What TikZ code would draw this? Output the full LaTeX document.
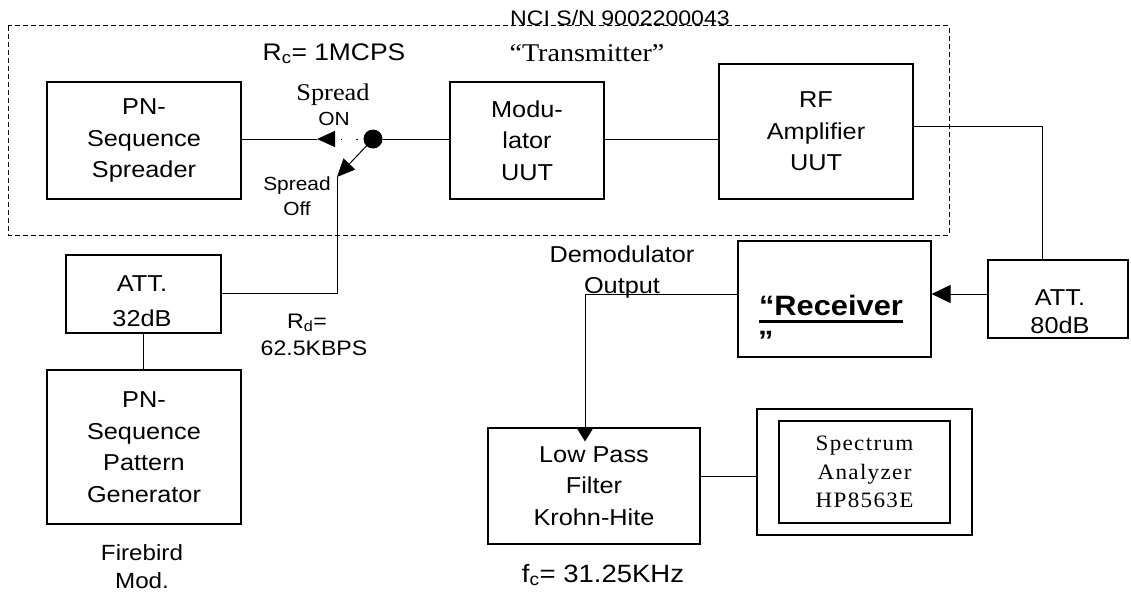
\documentclass[tikz,border=0pt]{standalone}
\usepackage{fontspec}
\setmainfont{Liberation Sans}[FakeStretch=1.1]
\newfontfamily\serifx{Liberation Serif}[FakeStretch=1.1]
\newfontfamily\serifsp{Liberation Serif}[FakeStretch=1.05,LetterSpace=6]
\usetikzlibrary{arrows.meta}
\newcommand\fsz[2]{\fontsize{#1}{#2}\selectfont}
\newcommand\thickul[1]{\setbox0\hbox{#1}\leavevmode\rlap{\rule[-7.5pt]{\wd0}{3pt}}\box0}
\begin{document}
\begin{tikzpicture}[x=1pt,y=-1pt,
  blk/.style={draw,line width=1.1pt,inner sep=0pt,align=center,font=\fsz{23}{31.5}},
  lbl/.style={inner sep=0pt,anchor=base},
  wire/.style={line width=1pt},
  tipa/.style={-{Triangle[length=18pt,width=16pt]}},
]
\useasboundingbox (0,0) rectangle (1131,594);
% transmitter frame
\draw[line width=1pt,dash pattern=on 5pt off 3pt] (8,26) rectangle (949,235);
\node[lbl,font=\fsz{21}{25}] (nci) at (620,25.5) {NCI S/N 9002200043};
\node[lbl,font=\fsz{24}{28}] (rc) at (334,60) {R\textsubscript{c}= 1MCPS};
\node[lbl,font=\serifx\fsz{25.5}{30}] (tx) at (587,62) {“Transmitter”};

% blocks
\node[blk,minimum width=194pt,minimum height=117pt] (spreader) at (144,140.5) {PN-\\Sequence\\Spreader};
\node[blk,minimum width=154pt,minimum height=117pt] (modulator) at (527,140.5) {Modu-\\lator\\UUT};
\node[blk,minimum width=194pt,minimum height=135pt] (rfamp) at (816,131.5) {RF\\Amplifier\\UUT};
\node[blk,minimum width=155pt,minimum height=78pt] (att32) at (143.5,294) {};
\node[lbl,font=\fsz{23}{28}] (att32a) at (142,291) {ATT.};
\node[lbl,font=\fsz{23}{28}] (att32b) at (142,326) {32dB};
\node[blk,minimum width=194pt,minimum height=154pt] (pngen) at (144,447) {PN-\\Sequence\\Pattern\\Generator};
\node[blk,minimum width=193pt,minimum height=116pt] (rx) at (834.5,299) {};
\node[lbl,font=\bfseries\fsz{28}{32}] (rxa) at (831,315) {\thickul{“Receiver}};
\node[lbl,anchor=base west,font=\bfseries\fsz{28}{32}] (rxb) at (758,350) {”};
\node[blk,minimum width=140pt,minimum height=78pt] (att80) at (1058,299) {};
\node[lbl,font=\fsz{23}{28}] (att80a) at (1060,305) {ATT.};
\node[lbl,font=\fsz{23}{28}] (att80b) at (1060,333) {80dB};
\node[blk,minimum width=212pt,minimum height=116pt] (lpf) at (594,486) {Low Pass\\Filter\\Krohn-Hite};
\node[blk,minimum width=215pt,minimum height=126pt] (specout) at (864.5,472) {};
\node[blk,minimum width=171pt,minimum height=102pt,font=\serifsp\fsz{22}{28.5}] (specin) at (864.5,472) {Spectrum\\Analyzer\\HP8563E};

% labels
\node[lbl,font=\serifx\fsz{24}{28}] (spon1) at (333,100) {Spread};
\node[lbl,font=\fsz{19}{24}] (spon2) at (334,125) {ON};
\node[lbl,font=\fsz{19}{24}] (spoff1) at (297,190) {Spread};
\node[lbl,font=\fsz{19}{24}] (spoff2) at (297,215) {Off};
\node[lbl,font=\fsz{21}{25}] (rd1) at (307,328) {R\textsubscript{d}=};
\node[lbl,font=\fsz{21}{25}] (rd2) at (314,355) {62.5KBPS};
\node[lbl,font=\fsz{22}{26}] (fb1) at (142,560) {Firebird};
\node[lbl,font=\fsz{22}{26}] (fb2) at (142,588) {Mod.};
\node[lbl,font=\fsz{23}{26}] (dm1) at (622,262) {Demodulator};
\node[lbl,font=\fsz{23}{26}] (dm2) at (622,293) {Output};
\node[lbl,font=\fsz{25}{28}] (fc) at (603,582) {f\textsubscript{c}= 31.25KHz};

% switch
\node[circle,fill,inner sep=0pt,minimum size=19pt] (dot) at (373,139) {};
\coordinate (on) at (317,139);
\coordinate (offtip) at (337,177);
\draw[wire,dash pattern=on 1.5pt off 14pt,tipa] (dot.center) -- (on);
\draw[wire] (on) -- (on -| spreader.east);
\draw[wire,tipa] (dot.center) -- (offtip);
\draw[wire] (offtip) |- ([yshift=1pt]att32.east);
\draw[wire] (dot) -- (dot -| modulator.west);

% connectors
\draw[wire] (modulator.east |- dot) -- (rfamp.west |- dot);
\draw[wire] ([yshift=5.5pt]rfamp.east) -| ([xshift=-16pt]att80.north);
\draw[wire,-{Triangle[length=19pt,width=18pt]}] ([yshift=5pt]att80.west) -- ([yshift=5pt]rx.east);
\draw[wire,-{Triangle[length=14pt,width=17pt]}] ([yshift=5pt]rx.west) -| ([xshift=-9pt,yshift=-14pt]lpf.north);
\draw[wire] (att32.south) -- (att32.south |- pngen.north);
\draw[wire] ([yshift=10pt]lpf.east) -- ([yshift=10pt]lpf.east -| specout.west);
\end{tikzpicture}
\end{document}
